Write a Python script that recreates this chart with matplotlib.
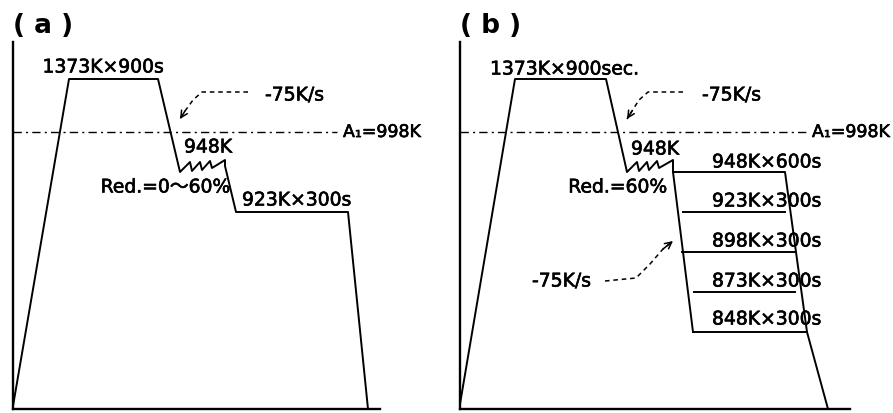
import matplotlib
matplotlib.use("Agg")
import matplotlib.pyplot as plt
import matplotlib.patheffects as pe

plt.rcParams['font.family'] = ['DejaVu Sans', 'Noto Sans CJK JP']

# schematic heat-treatment paths (time units, schematic temperature level)
time_a = [0, 56, 145, 167, 177, 179, 187, 189, 197, 199, 212, 212, 223, 335, 355]
temp_a = [3, 330, 330, 237, 247, 238, 247, 239, 248, 241, 249, 243, 197, 197, 0]

time_b = [0, 55, 146, 167, 177, 179, 187, 189, 197, 199, 213, 213, 325, 347, 368]
temp_b = [5, 330, 330, 237, 247, 238, 247, 239, 248, 241, 249, 237, 237, 77, 0]
cool_b_t = [213, 233]
cool_b_y = [237, 77]
hold_levels = [197, 157, 117, 77]
hold_start = [223, 222, 234, 233]
hold_end = [325, 335, 335, 347]
hold_labels = ['948K×600s', '923K×300s', '898K×300s', '873K×300s', '848K×300s']
label_y = [247, 208, 168, 128, 90]

a1_level = 277
a1_end = [324, 350]

fig = plt.figure(figsize=(8.93, 4.14), dpi=100)
ax_a = fig.add_axes([13 / 893, 4 / 414, 367 / 893, 367 / 414])
ax_b = fig.add_axes([460 / 893, 4 / 414, 390 / 893, 367 / 414])

for ax, xmax in ((ax_a, 367), (ax_b, 390)):
    ax.set_xlim(0, xmax)
    ax.set_ylim(0, 367)
    ax.set_xticks([])
    ax.set_yticks([])
    for s in ('top', 'right'):
        ax.spines[s].set_visible(False)
    for s in ('left', 'bottom'):
        ax.spines[s].set_linewidth(1.7)

fs = 13.5
lw = 1.4
bold = [pe.withStroke(linewidth=0.45, foreground='k')]
txt = dict(fontsize=fs, va='center', path_effects=bold)


def dashed_arrow(ax, xs, ys):
    ax.plot(xs, ys, color='k', lw=1.1, ls=(0, (3, 2.5)))
    ax.annotate('', xy=(xs[-1], ys[-1]), xytext=(xs[-2], ys[-2]),
                arrowprops=dict(arrowstyle='->', lw=1.1, color='k',
                                mutation_scale=12, shrinkA=0, shrinkB=0))


# (a)
ax_a.plot(time_a, temp_a, color='k', lw=lw)
ax_a.plot([0, a1_end[0]], [a1_level, a1_level], color='k', lw=1.0,
          ls=(0, (6, 3, 1.5, 3)))
ax_a.text(0, 384, '( a )', fontsize=19, fontweight='bold', ha='left',
          va='center', clip_on=False)
ax_a.text(90, 342, '1373K×900s', ha='center', **txt)
ax_a.text(252, 314, '-75K/s', ha='left', **txt)
ax_a.text(330, a1_level, 'A₁=998K', fontsize=12.5, ha='left', va='center',
          path_effects=bold, clip_on=False)
ax_a.text(195, 262, '948K', ha='center', **txt)
ax_a.text(217, 222, 'Red.=0〜60%', ha='right', **txt)
ax_a.text(229, 209, '923K×300s', ha='left', **txt)
dashed_arrow(ax_a, [235, 189, 180, 172, 167], [317, 317, 309, 298, 290])

# (b)
ax_b.plot(time_b, temp_b, color='k', lw=lw)
ax_b.plot(cool_b_t, cool_b_y, color='k', lw=lw)
for y, x0, x1 in zip(hold_levels, hold_start, hold_end):
    ax_b.plot([x0, x1], [y, y], color='k', lw=lw)
ax_b.plot([0, a1_end[1]], [a1_level, a1_level], color='k', lw=1.0,
          ls=(0, (6, 3, 1.5, 3)))
ax_b.text(0, 384, '( b )', fontsize=19, fontweight='bold', ha='left',
          va='center', clip_on=False)
ax_b.text(30, 340, '1373K×900sec.', ha='left', **txt)
ax_b.text(242, 314, '-75K/s', ha='left', **txt)
ax_b.text(352, a1_level, 'A₁=998K', fontsize=12.5, ha='left', va='center',
          path_effects=bold, clip_on=False)
ax_b.text(195, 260, '948K', ha='center', **txt)
ax_b.text(207, 222, 'Red.=60%', ha='right', **txt)
for lab, y in zip(hold_labels, label_y):
    ax_b.text(252, y, lab, ha='left', **txt)
ax_b.text(72, 128, '-75K/s', ha='left', **txt)
dashed_arrow(ax_b, [223, 188, 179, 172, 167], [317, 317, 309, 298, 290])
dashed_arrow(ax_b, [145, 176, 190, 203, 213], [128, 131, 145, 160, 168])

fig.savefig('out.png', dpi=100)
